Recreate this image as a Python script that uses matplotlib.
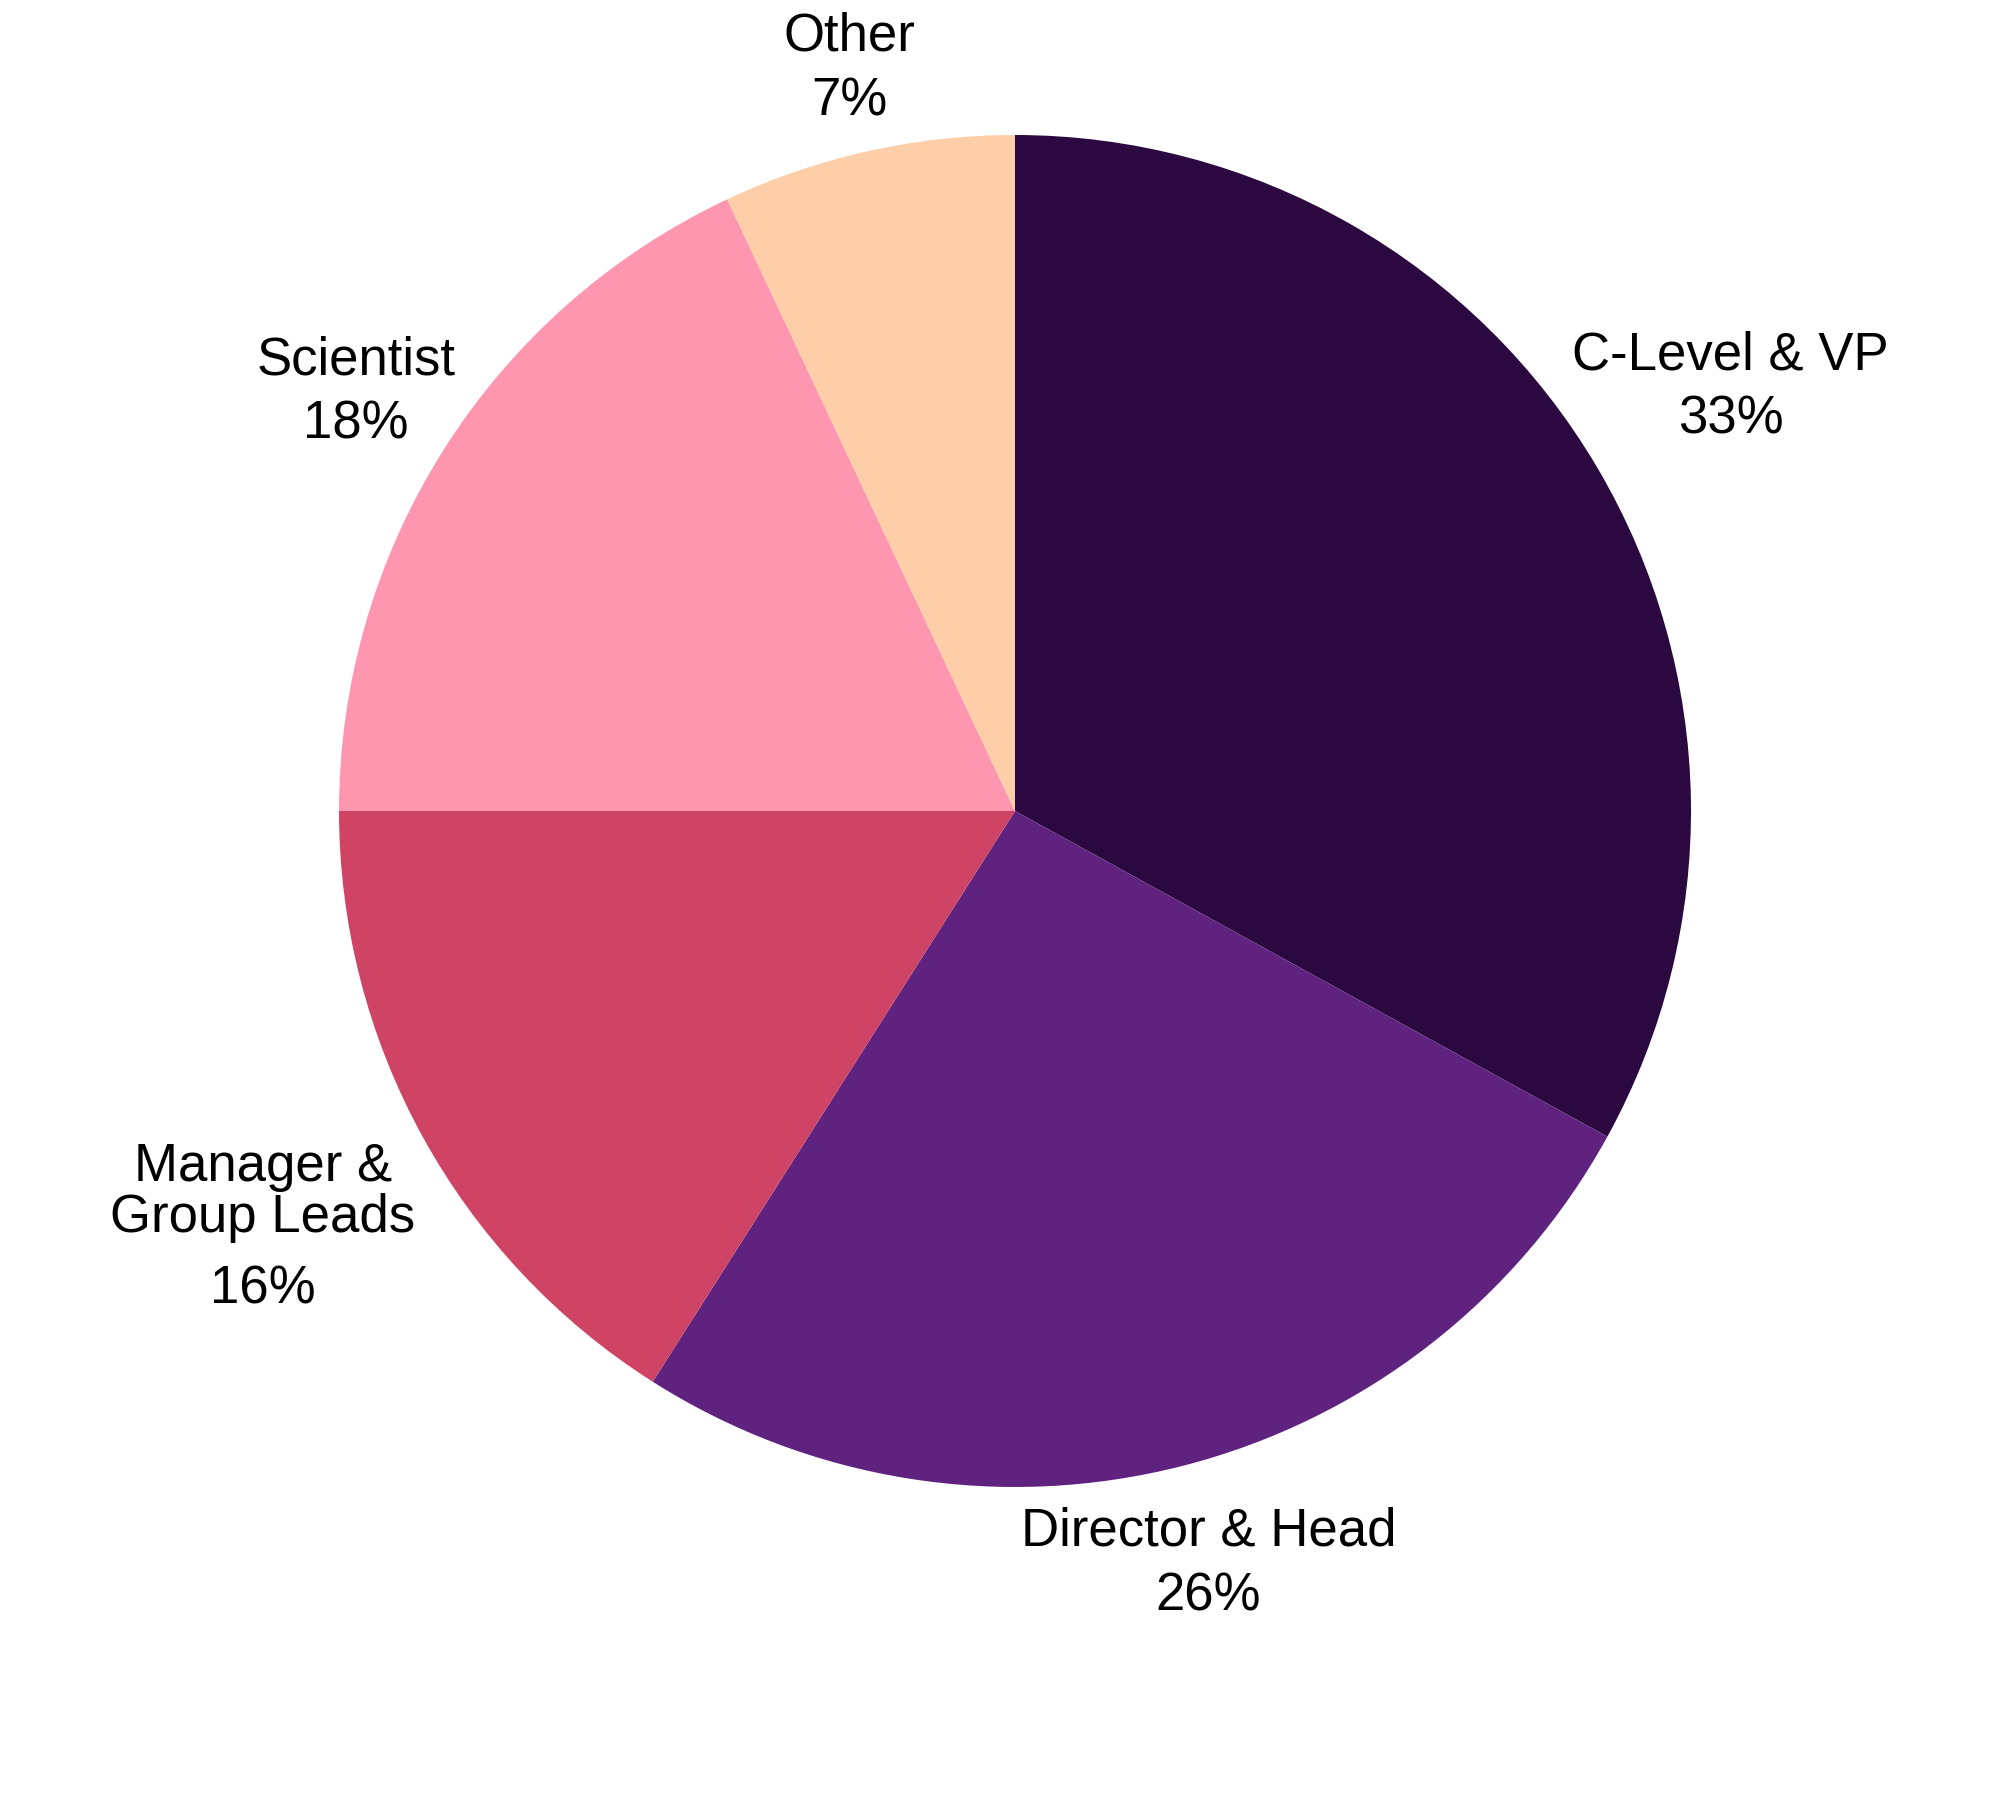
import numpy as np
import matplotlib
matplotlib.use("Agg")
import matplotlib.pyplot as plt

# -----------------------------
# DATA
# -----------------------------
roles = ["C-Level & VP", "Director & Head", "Manager &\nGroup Leads", "Scientist", "Other"]
shares = [33, 26, 16, 18, 7]
colors = ["#2c0840", "#5f237f", "#cf4465", "#ff96b0", "#fecea8"]

# label layout: distance from centre (in pie radii), gap name/percent (points)
label_dist = [1.23, 1.15, 1.27, 1.155, 1.125]
label_gap = [5.2, 5.2, 7.5, 5.2, 5.2]

plt.rcParams["font.family"] = ["Liberation Sans", "DejaVu Sans"]
fs = 19

fig = plt.figure(figsize=(10, 9), dpi=200)
ax = fig.add_axes([0.1695, 0.1739, 0.676, 0.7511])

wedges, _ = ax.pie(
    shares,
    colors=colors,
    startangle=90,
    counterclock=False,
    radius=1.0,
)

ax.set_xlim(-1, 1)
ax.set_ylim(-1, 1)
ax.set_aspect("auto")
ax.axis("off")

for w, name, pct, d, g in zip(wedges, roles, shares, label_dist, label_gap):
    mid = np.deg2rad((w.theta1 + w.theta2) / 2)
    x = d * np.cos(mid)
    y = d * np.sin(mid)
    # shift multi-line blocks so the whole block is centred on the anchor
    shift = -(name.count("\n")) * 0.55 * fs
    ax.annotate(
        name, xy=(x, y), xytext=(0, g / 2 + shift), textcoords="offset points",
        ha="center", va="bottom", fontsize=fs, linespacing=1.02,
        annotation_clip=False,
    )
    ax.annotate(
        f"{pct}%", xy=(x, y), xytext=(0, -g / 2 + shift), textcoords="offset points",
        ha="center", va="top", fontsize=fs, annotation_clip=False,
    )

plt.savefig("out.png", dpi=200)
plt.close()
